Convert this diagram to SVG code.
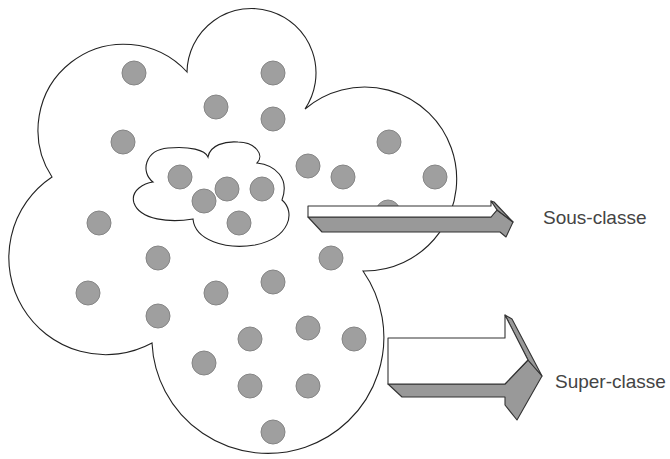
<svg xmlns="http://www.w3.org/2000/svg" width="670" height="459" viewBox="0 0 670 459">
<style>
.cloud{fill:#fff;stroke:#222;stroke-width:1.1}
.dot{fill:#9f9f9f;stroke:#858585;stroke-width:1}
.face{fill:#fff;stroke:#333;stroke-width:1.1;stroke-linejoin:round}
.side{fill:#999;stroke:#333;stroke-width:1.1;stroke-linejoin:round}
.lbl{font-family:"Liberation Sans",Arial,sans-serif;font-size:19px;fill:#444}
</style>
<rect width="670" height="459" fill="#fff"/>
<g id="superclass-cloud">
<path class="cloud" d="M187,72 A64.5,64.5 0 1 1 305,109 A92,92 0 1 1 363,271 A116,116 0 1 1 152,343 A97,97 0 0 1 52,177 A85.8,85.8 0 0 1 187,72 Z"/>
</g>
<g id="subclass-cloud">
<path class="cloud" d="M153,182 C140,172 145,150 168,148 C190,146 205,150 208,157 C210,145 225,141 238,142 C255,142 265,155 257,163 C275,165 290,178 282,200 C296,212 290,238 255,245 C225,250 195,240 193,219 C170,223 140,220 134,203 C130,190 145,183 153,182 Z"/>
</g>
<g id="instances">
<circle class="dot" cx="134" cy="73" r="12"/>
<circle class="dot" cx="273" cy="73" r="12"/>
<circle class="dot" cx="216" cy="107" r="12"/>
<circle class="dot" cx="273" cy="119" r="12"/>
<circle class="dot" cx="123" cy="142" r="12"/>
<circle class="dot" cx="389" cy="142" r="12"/>
<circle class="dot" cx="308" cy="166" r="12"/>
<circle class="dot" cx="343" cy="177" r="12"/>
<circle class="dot" cx="435" cy="177" r="12"/>
<circle class="dot" cx="388" cy="212" r="12"/>
<circle class="dot" cx="99" cy="223" r="12"/>
<circle class="dot" cx="158" cy="258" r="12"/>
<circle class="dot" cx="331" cy="258" r="12"/>
<circle class="dot" cx="273" cy="282" r="12"/>
<circle class="dot" cx="88" cy="293" r="12"/>
<circle class="dot" cx="216" cy="293" r="12"/>
<circle class="dot" cx="158" cy="316" r="12"/>
<circle class="dot" cx="308" cy="328" r="12"/>
<circle class="dot" cx="250" cy="339" r="12"/>
<circle class="dot" cx="354" cy="339" r="12"/>
<circle class="dot" cx="204" cy="363" r="12"/>
<circle class="dot" cx="250" cy="386" r="12"/>
<circle class="dot" cx="308" cy="386" r="12"/>
<circle class="dot" cx="273" cy="432" r="12"/>
</g>
<g id="subclass-instances">
<circle class="dot" cx="180" cy="177" r="12"/>
<circle class="dot" cx="227" cy="189" r="12"/>
<circle class="dot" cx="262" cy="189" r="12"/>
<circle class="dot" cx="204" cy="201" r="12"/>
<circle class="dot" cx="239" cy="223" r="12"/>
</g>
<g id="connectors">
<g id="arrow-sous">
<polygon class="side" points="308,217 322,232 500,232 506,237 513,222 497,210 491,217"/>
<polygon class="side" points="491,201 494,202 513,222 497,210"/>
<polygon class="face" points="308,206 491,206 491,201 497,210 491,217 308,217"/>
</g>
<g id="arrow-super">
<polygon class="side" points="388,384 402,397 505,397 505,405 517,420 542,376 528,360 505,384"/>
<polygon class="side" points="505,315 512,319 542,376 528,360"/>
<polygon class="face" points="388,338 505,338 505,315 528,360 505,384 388,384"/>
</g>
</g>
<g id="labels">
<text class="lbl" x="543" y="224">Sous-classe</text>
<text class="lbl" x="555" y="388">Super-classe</text>
</g>
</svg>
